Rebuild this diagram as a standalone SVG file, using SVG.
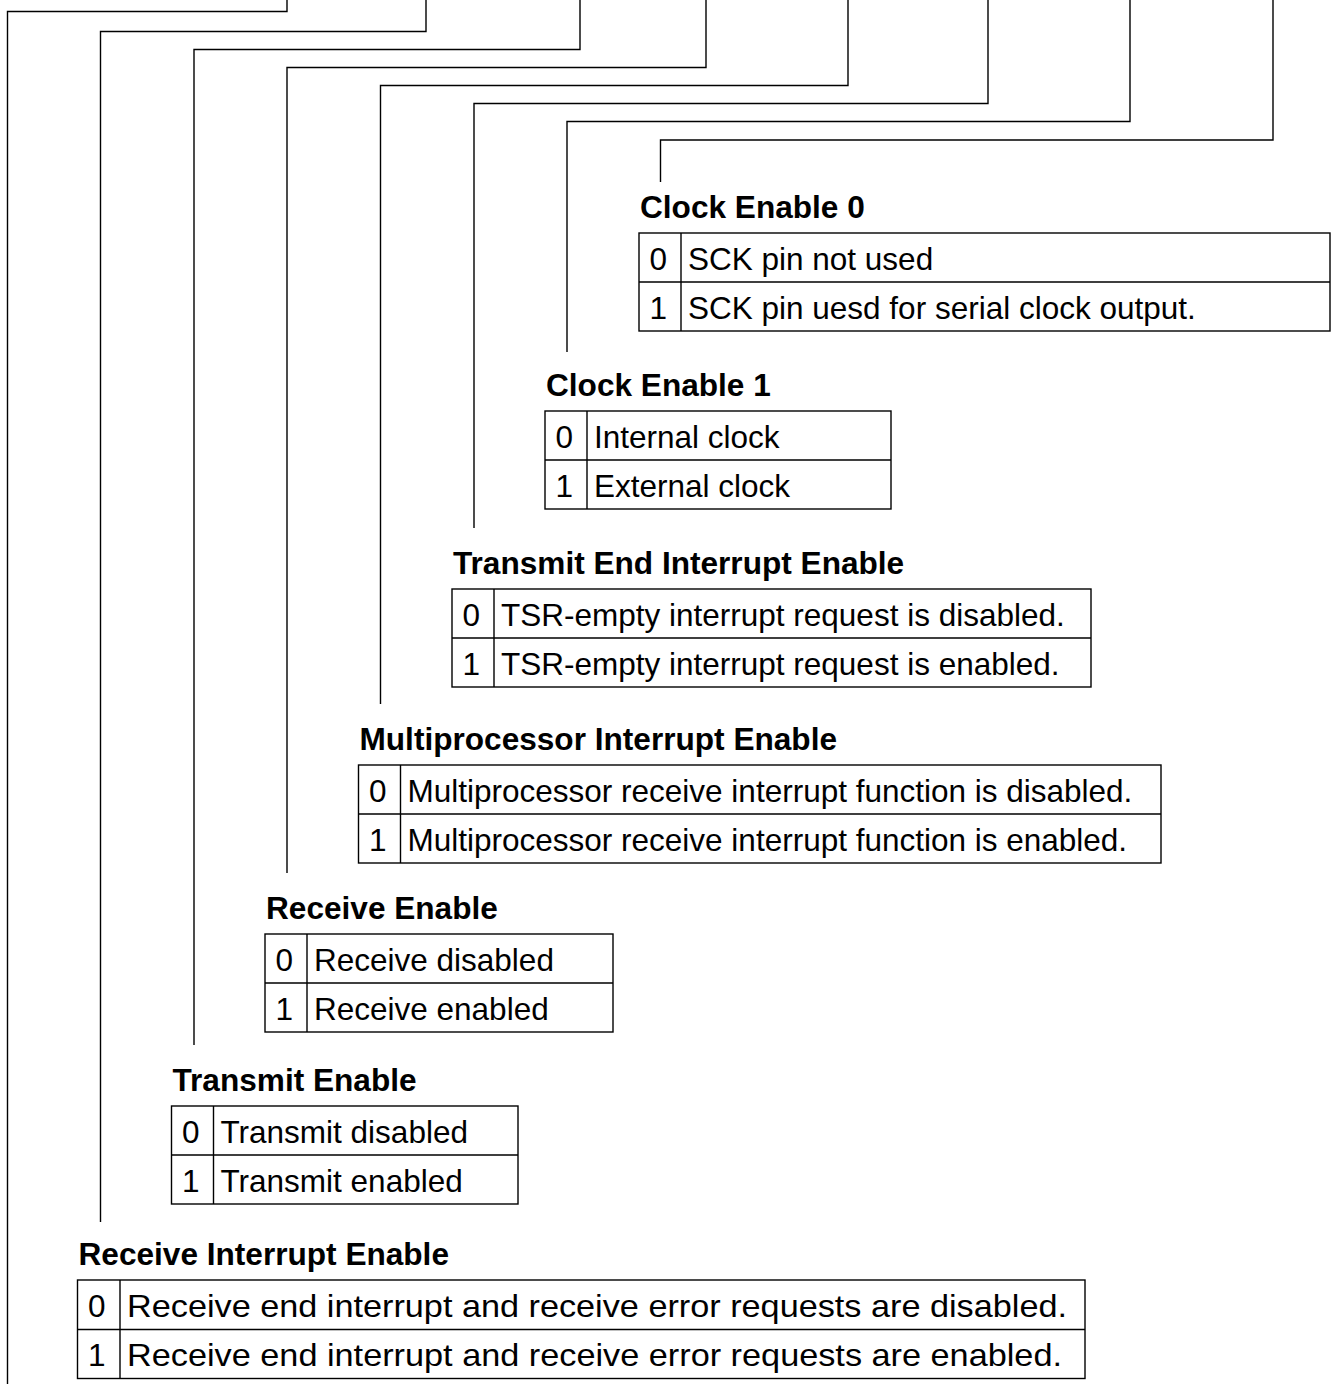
<svg xmlns="http://www.w3.org/2000/svg" width="1344" height="1384" viewBox="0 0 1344 1384">
<style>
.c{fill:none;stroke:#000;stroke-width:1.4}
.b{fill:none;stroke:#000;stroke-width:1.4}
.t{font-family:"Liberation Sans",Arial,sans-serif;font-weight:bold;font-size:31.6px;fill:#000}
.r{font-family:"Liberation Sans",Arial,sans-serif;font-size:31.5px;fill:#000}
</style>
<rect width="1344" height="1384" fill="#fff"/>
<g id="connectors">
<path class="c" d="M7.5 1384V11.5H287V0"/>
<path class="c" d="M100.5 1222V31.5H426V0"/>
<path class="c" d="M194 1045V49.5H580V0"/>
<path class="c" d="M287 873V67.5H706V0"/>
<path class="c" d="M380.5 704V85.5H848V0"/>
<path class="c" d="M474 528V103.5H988V0"/>
<path class="c" d="M567 352V121.5H1130V0"/>
<path class="c" d="M660.5 182V140H1273V0"/>
</g>
<g id="clock-enable-0">
<text class="t" x="640" y="217.5">Clock Enable 0</text>
<rect class="b" x="639" y="233" width="691" height="98"/>
<path class="b" d="M639 282H1330M681 233V331"/>
<text class="r" x="649.5" y="270">0</text><text class="r" x="688" y="270">SCK pin not used</text>
<text class="r" x="649.5" y="319">1</text><text class="r" x="688" y="319">SCK pin uesd for serial clock output.</text>
</g>
<g id="clock-enable-1">
<text class="t" x="546" y="395.5">Clock Enable 1</text>
<rect class="b" x="545" y="411" width="346" height="98"/>
<path class="b" d="M545 460H891M587 411V509"/>
<text class="r" x="555.5" y="448">0</text><text class="r" x="594" y="448">Internal clock</text>
<text class="r" x="555.5" y="497">1</text><text class="r" x="594" y="497">External clock</text>
</g>
<g id="transmit-end-interrupt-enable">
<text class="t" x="453" y="573.5">Transmit End Interrupt Enable</text>
<rect class="b" x="452" y="589" width="639" height="98"/>
<path class="b" d="M452 638H1091M494 589V687"/>
<text class="r" x="462.5" y="626">0</text><text class="r" x="501" y="626">TSR-empty interrupt request is disabled.</text>
<text class="r" x="462.5" y="675">1</text><text class="r" x="501" y="675">TSR-empty interrupt request is enabled.</text>
</g>
<g id="multiprocessor-interrupt-enable">
<text class="t" x="359.5" y="749.5">Multiprocessor Interrupt Enable</text>
<rect class="b" x="358.5" y="765" width="802.5" height="98"/>
<path class="b" d="M358.5 814H1161M400.5 765V863"/>
<text class="r" x="369" y="802">0</text><text class="r" x="407.5" y="802">Multiprocessor receive interrupt function is disabled.</text>
<text class="r" x="369" y="851">1</text><text class="r" x="407.5" y="851">Multiprocessor receive interrupt function is enabled.</text>
</g>
<g id="receive-enable">
<text class="t" x="266" y="918.5">Receive Enable</text>
<rect class="b" x="265" y="934" width="348" height="98"/>
<path class="b" d="M265 983H613M307 934V1032"/>
<text class="r" x="275.5" y="971">0</text><text class="r" x="314" y="971">Receive disabled</text>
<text class="r" x="275.5" y="1020">1</text><text class="r" x="314" y="1020">Receive enabled</text>
</g>
<g id="transmit-enable">
<text class="t" x="172.5" y="1090.5">Transmit Enable</text>
<rect class="b" x="171.5" y="1106" width="346.5" height="98"/>
<path class="b" d="M171.5 1155H518M213.5 1106V1204"/>
<text class="r" x="182" y="1143">0</text><text class="r" x="220.5" y="1143">Transmit disabled</text>
<text class="r" x="182" y="1192">1</text><text class="r" x="220.5" y="1192">Transmit enabled</text>
</g>
<g id="receive-interrupt-enable">
<text class="t" x="78.5" y="1264.5">Receive Interrupt Enable</text>
<rect class="b" x="77.5" y="1280" width="1007.5" height="98.5"/>
<path class="b" d="M77.5 1329.5H1085M120 1280V1378.5"/>
<text class="r" x="88" y="1317">0</text><text class="r" x="127" y="1317" textLength="940" lengthAdjust="spacingAndGlyphs">Receive end interrupt and receive error requests are disabled.</text>
<text class="r" x="88" y="1366">1</text><text class="r" x="127" y="1366" textLength="935" lengthAdjust="spacingAndGlyphs">Receive end interrupt and receive error requests are enabled.</text>
</g>
</svg>
